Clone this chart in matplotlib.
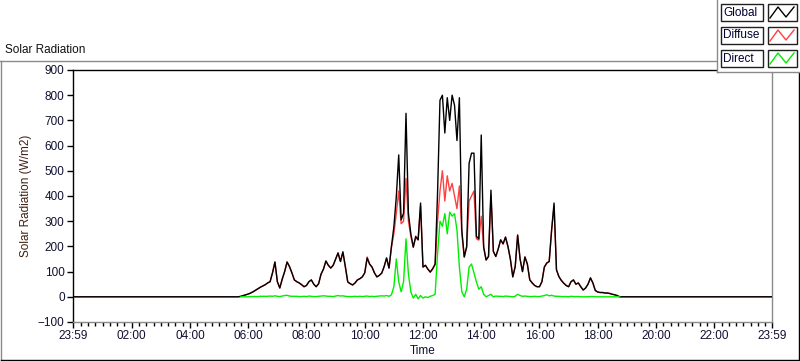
import numpy as np
import matplotlib.pyplot as plt
from matplotlib.patches import Rectangle
from matplotlib.lines import Line2D

plt.rcParams['font.family'] = ['Liberation Sans', 'DejaVu Sans']

# 5 minute samples starting 05:40, ending 19:00
start_hour = 5 + 40 / 60.
step_hour = 5 / 60.

global_rad = [
    0, 2, 5, 8, 11, 15, 20, 26, 32, 38, 43, 48,
    55, 60, 95, 138, 60, 35, 70, 100, 138, 120, 95, 67,
    60, 55, 48, 40, 45, 60, 67, 50, 40, 52, 90, 110,
    142, 125, 114, 125, 150, 174, 140, 178, 120, 59, 52, 47,
    55, 67, 72, 79, 95, 154, 130, 118, 95, 79, 85, 94,
    120, 154, 114, 200, 277, 396, 563, 305, 332, 728, 330, 250,
    197, 240, 226, 372, 118, 125, 110, 98, 112, 130, 411, 780,
    800, 650, 790, 700, 800, 760, 620, 790, 265, 158, 200, 530,
    570, 570, 240, 230, 642, 197, 146, 160, 423, 180, 160, 190,
    226, 210, 237, 200, 150, 79, 120, 245, 150, 100, 158, 130,
    67, 55, 45, 40, 40, 60, 118, 134, 140, 265, 372, 107,
    80, 65, 54, 45, 40, 60, 67, 50, 55, 40, 27, 35,
    50, 75, 55, 25, 19, 17, 17, 15, 15, 13, 10, 8,
    5, 0, 0, 0, 0]

diffuse_rad = [
    0, 2, 5, 8, 11, 15, 20, 26, 32, 38, 43, 48,
    55, 60, 95, 138, 60, 35, 70, 100, 138, 120, 95, 67,
    60, 55, 48, 40, 45, 60, 67, 50, 40, 52, 90, 110,
    142, 125, 114, 125, 150, 174, 140, 178, 120, 59, 52, 47,
    55, 67, 72, 79, 95, 158, 130, 118, 95, 79, 85, 94,
    120, 154, 114, 195, 250, 330, 420, 290, 300, 470, 300, 240,
    197, 235, 226, 360, 118, 125, 110, 98, 110, 128, 300, 420,
    500, 380, 480, 420, 450, 400, 350, 440, 250, 158, 195, 380,
    400, 420, 230, 225, 320, 197, 146, 160, 400, 180, 160, 190,
    226, 210, 237, 200, 150, 79, 120, 245, 150, 100, 158, 130,
    67, 55, 45, 40, 40, 60, 118, 134, 140, 265, 360, 107,
    80, 65, 54, 45, 40, 60, 67, 50, 55, 40, 27, 35,
    50, 75, 55, 25, 19, 17, 17, 15, 15, 13, 10, 8,
    5, 0, 0, 0, 0]

direct_rad = [
    0, 0, 0, 0, 0, 1, 1, 1, 1, 2, 2, 2,
    2, 3, 2, 4, 2, 1, 3, 5, 6, 3, 2, 2,
    2, 1, 1, 2, 1, 3, 2, 1, 1, 2, 3, 4,
    3, 2, 2, 1, 3, 5, 3, 4, 2, 1, 1, 1,
    2, 1, 2, 1, 2, 3, 1, 2, 1, 2, 3, 4,
    3, 5, 2, 8, 40, 150, 60, 20, 60, 230, 90, 20,
    -5, 10, -8, 5, -5, 0, -3, 2, 5, 10, 170, 300,
    280, 330, 250, 336, 320, 330, 265, 118, 20, 0, 30, 118,
    130, 95, 60, 30, 40, 10, 0, 5, 10, 0, 3, 2,
    2, 1, 3, 2, 1, 0, 2, 10, 5, 2, 3, 2,
    1, 1, 2, 1, 1, 3, 5, 8, 4, 6, 3, 2,
    2, 1, 1, 1, 0, 2, 1, 1, 1, 0, 0, 0,
    0, 1, 1, 0, 0, 0, 0, 0, 0, 0, 0, 0,
    0, 0, 0, 0, 0]

tick_labels = ['23:59', '02:00', '04:00', '06:00', '08:00', '10:00', '12:00',
               '14:00', '16:00', '18:00', '20:00', '22:00', '23:59']
series_names = ['Global', 'Diffuse', 'Direct']
series_colors = ['black', '#ff4040', '#00ee00']

# the day runs from 23:59 to 23:59, in hours
t_lo = -1 / 60.
t_hi = 24 - 1 / 60.
t = start_hour + np.arange(len(global_rad)) * step_hour
tt = np.concatenate([[t_lo], t, [t_hi]])

def pad(v):
    return np.concatenate([[0], v, [0]])

W, H = 800, 361
fig = plt.figure(figsize=(W / 100, H / 100), dpi=100)
fig.patch.set_facecolor('white')

def fx(x):
    return x / W

def fy(y):
    return 1 - y / H

ax = fig.add_axes([fx(73), fy(322), fx(772) - fx(73), fy(70) - fy(322)])
ax.plot(tt, pad(diffuse_rad), color=series_colors[1], lw=1.0, zorder=2)
ax.plot(tt, pad(global_rad), color=series_colors[0], lw=1.0, zorder=3)
# direct is only logged while the sun is up
ax.plot(t[1:-3], direct_rad[1:-3], color=series_colors[2], lw=1.0, zorder=4)

ax.set_xlim(t_lo, t_hi)
ax.set_ylim(-100, 900)
ax.set_yticks(np.arange(-100, 901, 100))
ax.set_xticks([t_lo] + list(range(2, 23, 2)) + [t_hi])
ax.set_xticklabels(tick_labels)
ax.set_xticks(np.arange(0.25, 24, 0.25), minor=True)
ax.tick_params(axis='both', which='major', length=4, width=1, labelsize=8.5, pad=2, colors='black')
ax.tick_params(axis='x', which='minor', length=3, width=1)
for lab in ax.get_xticklabels() + ax.get_yticklabels():
    lab.set_color('#101030')
ax.spines['left'].set_color('black')
ax.spines['top'].set_color('black')
ax.spines['right'].set_color('#8a8a8a')
ax.spines['bottom'].set_color('#8a8a8a')
for s in ax.spines.values():
    s.set_linewidth(1.0)
ax.set_ylabel('Solar Radiation (W/m2)', fontsize=8.5, color='#402010', labelpad=4)
ax.set_xlabel('Time', fontsize=8.5, color='#101030', labelpad=2)

# outer frame of the graph
fig.add_artist(Line2D([fx(0), fx(717)], [fy(61), fy(61)], color='#8a8a8a', lw=1))
fig.add_artist(Line2D([fx(1), fx(1)], [fy(61), fy(360)], color='#8a8a8a', lw=1))
fig.add_artist(Line2D([fx(799), fx(799)], [fy(72), fy(360)], color='black', lw=1))
fig.add_artist(Line2D([fx(1), fx(799)], [fy(360), fy(360)], color='black', lw=1))
fig.text(fx(5), fy(50), 'Solar Radiation', fontsize=8.5, color='#101010', va='center', ha='left')

# legend panel at the top right
fig.add_artist(Rectangle((fx(717), fy(72)), fx(83), fy(0) - fy(72), facecolor='white',
                         edgecolor='none', zorder=5))
fig.add_artist(Line2D([fx(717), fx(717)], [fy(0), fy(72)], color='#8a8a8a', lw=1, zorder=6))
fig.add_artist(Line2D([fx(717), fx(800)], [fy(72), fy(72)], color='#8a8a8a', lw=1, zorder=6))
row_tops = [4, 27, 50]
for name, col, top in zip(series_names, series_colors, row_tops):
    fig.add_artist(Rectangle((fx(721), fy(top + 17)), fx(42), fy(top) - fy(top + 17),
                             facecolor='white', edgecolor='#202020', lw=1, zorder=7))
    fig.text(fx(723), fy(top + 8.5), name, fontsize=8.5, color='#000030',
             va='center', ha='left', zorder=8)
    fig.add_artist(Rectangle((fx(768), fy(top + 17)), fx(29), fy(top) - fy(top + 17),
                             facecolor='white', edgecolor='#202020', lw=1, zorder=7))
    zx = [770, 778, 786, 794]
    zy = [top + 14, top + 3, top + 13, top + 3]
    fig.add_artist(Line2D([fx(v) for v in zx], [fy(v) for v in zy], color=col, lw=1, zorder=8))

fig.savefig('out.png', dpi=100)
